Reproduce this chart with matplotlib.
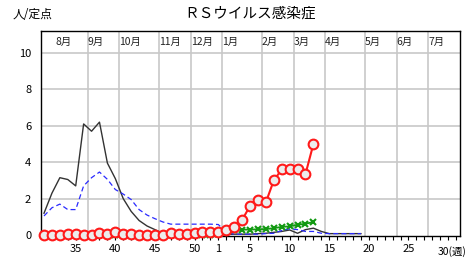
import matplotlib
matplotlib.use("Agg")
import matplotlib.pyplot as plt

plt.rcParams['font.family'] = ['Noto Sans CJK JP', 'DejaVu Sans']

# ---- data ----
weeks = list(range(31, 53)) + list(range(1, 31))          # season weeks (x index = position in list)
tick_label_weeks = [35, 40, 45, 50, 1, 5, 10, 15, 20, 25]
last_label = '30(週)'

months = ['8月', '9月', '10月', '11月', '12月', '1月', '2月', '3月', '4月', '5月', '6月', '7月']
month_start_idx = [1.5, 5.5, 9.5, 14.5, 18.5, 22.5, 27.5, 31.5, 35.5, 40.5, 44.5, 48.5]
month_grid_idx = [5.5, 9.5, 14.5, 18.5, 22.5, 27.5, 31.5, 35.5, 40.5, 44.5, 48.5]

current = [0.02, 0.02, 0.02, 0.05, 0.05, 0.02, 0.02, 0.12, 0.08, 0.15, 0.05, 0.05, 0.03,
           0.02, 0.02, 0.03, 0.12, 0.05, 0.07, 0.10, 0.15, 0.15,
           0.15, 0.30, 0.45, 0.83, 1.60, 1.90, 1.80, 3.00, 3.60, 3.65, 3.60, 3.35, 5.00]
green = [0.02] * 22 + [0.08, 0.18, 0.28, 0.30, 0.30, 0.32, 0.33, 0.38, 0.45, 0.48, 0.57, 0.62, 0.72]
prev1 = [1.20, 2.30, 3.15, 3.05, 2.70, 6.10, 5.70, 6.20, 3.95, 3.10, 2.00, 1.30, 0.80, 0.50,
         0.30, 0.10, 0.03, 0.03, 0.03, 0.03, 0.03, 0.03,
         0.03, 0.03, 0.05, 0.05, 0.05, 0.08, 0.10, 0.15, 0.20, 0.28, 0.10, 0.30, 0.38, 0.20,
         0.08, 0.08, 0.08, 0.08, 0.08]
avg = [1.05, 1.50, 1.70, 1.40, 1.40, 2.70, 3.15, 3.46, 3.06, 2.50, 2.25, 1.95, 1.40, 1.10,
       0.90, 0.72, 0.60, 0.60, 0.60, 0.60, 0.60, 0.60,
       0.58, 0.15, 0.05, 0.05, 0.05, 0.05, 0.08, 0.10, 0.25, 0.35, 0.30, 0.20, 0.20, 0.10,
       0.08, 0.08, 0.08, 0.08, 0.08]
yticks = [0, 2, 4, 6, 8, 10]

# ---- figure ----
fig = plt.figure(figsize=(4.68, 2.60), dpi=100)
ax = fig.add_axes([41/468, 1-236/260, (460-41)/468, (236-31)/260])
ax.set_xlim(-0.38, 52.5)
ax.set_ylim(-0.05, 11.2)

grid_c = '#c8c8c8'
for y in yticks[1:]:
    ax.axhline(y, color=grid_c, lw=1.2, zorder=0)
for x in month_grid_idx:
    ax.axvline(x, color=grid_c, lw=1.2, zorder=0)

ax.plot(range(len(prev1)), prev1, color='#333333', lw=1.0, zorder=2)
ax.plot(range(len(avg)), avg, color='#2a2aff', lw=0.9, ls=(0, (4, 2.5)), zorder=2)
ax.plot(range(len(green)), green, color='#119911', lw=1.3, marker='x', markersize=4.5,
        markeredgewidth=1.5, zorder=3, clip_on=False)
ax.plot(range(len(current)), current, color='#ff1a1a', lw=1.5, marker='o', markersize=7,
        markerfacecolor='#ececec', markeredgecolor='#ff1a1a', markeredgewidth=1.5,
        zorder=4, clip_on=False)

for m, x in zip(months, month_start_idx):
    ax.text(x, 10.62, m, ha='left', va='center', fontsize=7.5, color='#222222')

ax.set_yticks(yticks)
ax.set_yticklabels([str(v) for v in yticks], fontsize=8)
ax.tick_params(axis='y', length=0, pad=7)

ax.set_xticks(range(0, 53))
labels = []
for i in range(53):
    w = weeks[i] if i < len(weeks) else None
    labels.append(str(w) if w in tick_label_weeks else '')
ax.set_xticklabels(labels, fontsize=8)
ax.tick_params(axis='x', direction='out', length=3, width=0.8, pad=2.5)

for s in ax.spines.values():
    s.set_color('black')
    s.set_linewidth(1.0)

fig.text(250/468, 1-14/260, 'ＲＳウイルス感染症', ha='center', va='center', fontsize=10.5)
fig.text(13/468, 1-14/260, '人/定点', ha='left', va='center', fontsize=8.5)
fig.text(467/468, 1-252/260, last_label, ha='right', va='center', fontsize=7.5)

fig.savefig('out.png', dpi=100)
